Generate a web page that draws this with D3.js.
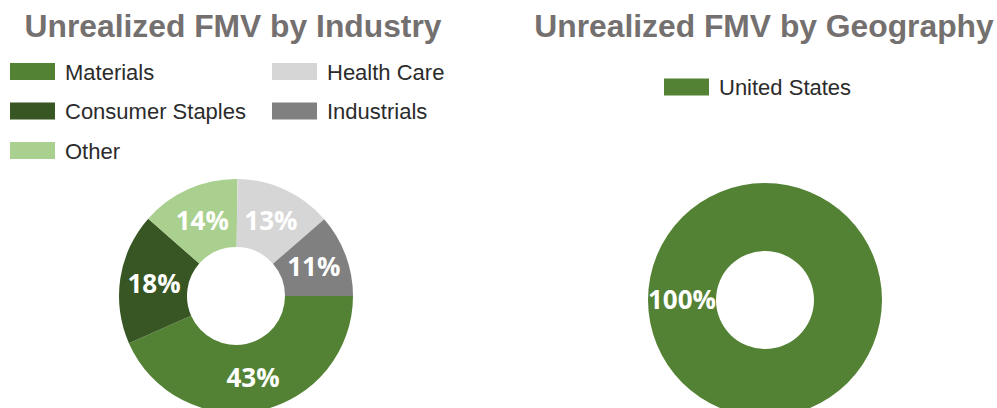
<!DOCTYPE html>
<html>
<head>
<meta charset="utf-8">
<script src="https://cdn.jsdelivr.net/npm/d3@7.9.0/dist/d3.min.js"></script>
<style>
  body { margin: 0; background: #fff; }
</style>
</head>
<body>
<svg id="chart" width="997" height="408"></svg>
<script>
// industry split (pie order, clockwise from 3 o'clock)
const industries = ["Materials", "Consumer Staples", "Other", "Health Care", "Industrials"];
const industryValues = [43.4, 18.1, 13.7, 13.4, 11.4];
const industryColors = ["#548235", "#375623", "#a9d08e", "#d6d6d6", "#808080"];

const regions = ["United States"];
const regionValues = [100];
const regionColors = ["#548235"];

const svg = d3.select("#chart");
const titleColor = "#747070";
const legendColor = "#2b2b2b";

function drawDonut(cx, cy, names, values, colors, title, titleX, legendPos) {
    const items = names.map((n, i) => ({ name: n, value: values[i], color: colors[i] }));
    const total = d3.sum(values);

    svg.append("text")
      .attr("x", titleX)
      .attr("y", 37)
      .attr("text-anchor", "middle")
      .style("font-family", "'Liberation Sans', Arial, sans-serif")
      .style("font-weight", "bold")
      .style("font-size", "31.8px")
      .style("fill", titleColor)
      .text(title);

    // legend, filled column by column
    const legend = svg.append("g");
    items.forEach((d, i) => {
      const col = Math.floor(i / legendPos.rows);
      const row = i % legendPos.rows;
      const g = legend.append("g")
        .attr("transform", `translate(${legendPos.x + col * legendPos.colW}, ${legendPos.y + row * 39.5})`);
      g.append("rect")
        .attr("x", 0).attr("y", -8.5)
        .attr("width", 45).attr("height", 17)
        .attr("fill", d.color);
      g.append("text")
        .attr("x", 55)
        .attr("y", 8)
        .style("font-family", "'Liberation Sans', Arial, sans-serif")
        .style("font-size", "22px")
        .style("fill", legendColor)
        .text(d.name);
    });

    const pie = d3.pie()
      .value(d => d.value)
      .sort(null)
      .startAngle(Math.PI / 2)
      .endAngle(Math.PI / 2 + 2 * Math.PI);

    const arc = d3.arc().innerRadius(49).outerRadius(117);
    const labelArc = d3.arc().innerRadius(83).outerRadius(83);

    const g = svg.append("g").attr("transform", `translate(${cx}, ${cy})`);
    const arcs = pie(items);

    g.selectAll("path")
      .data(arcs)
      .join("path")
      .attr("d", arc)
      .attr("fill", d => d.data.color);

    g.selectAll("text.pct")
      .data(arcs)
      .join("text")
      .attr("class", "pct")
      .attr("transform", d => {
        const c = labelArc.centroid(d);
        return `translate(${c[0]}, ${c[1]})`;
      })
      .attr("text-anchor", "middle")
      .attr("dy", "0.36em")
      .style("font-family", "'Open Sans', sans-serif")
      .style("font-weight", "bold")
      .style("font-size", "26px")
      .style("fill", "#ffffff")
      .text(d => Math.round(d.data.value / total * 100) + "%");
}

drawDonut(236, 296, industries, industryValues, industryColors,
  "Unrealized FMV by Industry", 233, { x: 10, y: 71.5, rows: 3, colW: 262 });

drawDonut(765, 300, regions, regionValues, regionColors,
  "Unrealized FMV by Geography", 764, { x: 664, y: 87, rows: 1, colW: 0 });
</script>
</body>
</html>
